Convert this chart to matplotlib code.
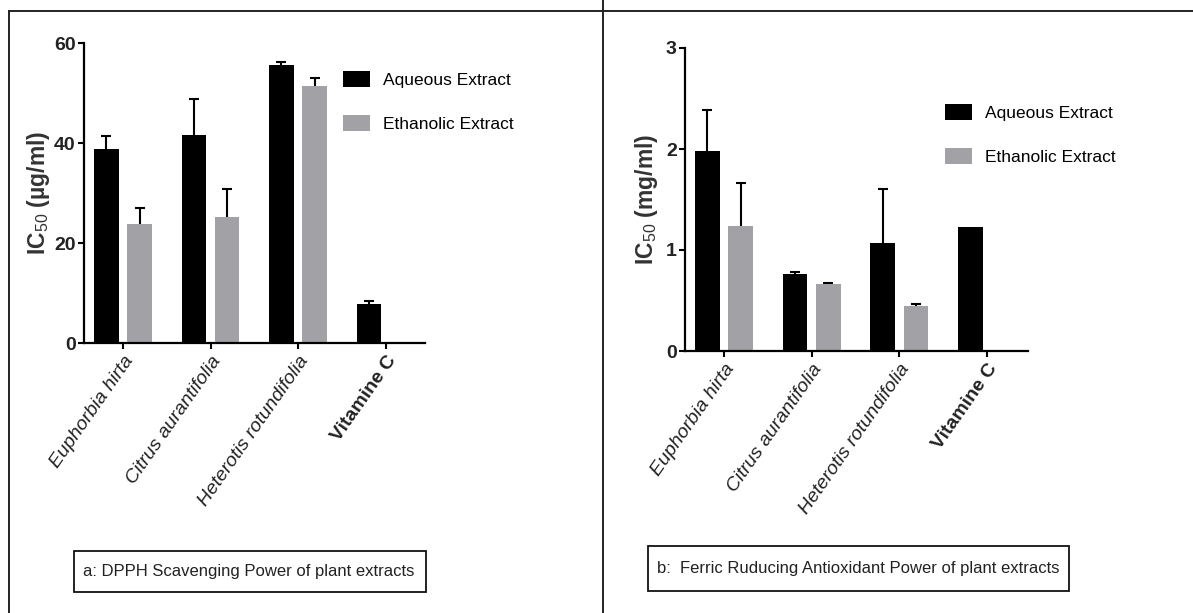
import matplotlib
matplotlib.use("Agg")
import matplotlib.pyplot as plt
import numpy as np
from matplotlib.lines import Line2D
from matplotlib.patches import Rectangle

plt.rcParams['font.family'] = ['Liberation Sans', 'DejaVu Sans']
plt.rcParams['mathtext.fontset'] = 'custom'
plt.rcParams['mathtext.rm'] = 'Liberation Sans'
plt.rcParams['mathtext.bf'] = 'Liberation Sans:bold'

# data
categories = ['Euphorbia hirta', 'Citrus aurantifolia', 'Heterotis rotundifolia', 'Vitamine C']
series = ['Aqueous Extract', 'Ethanolic Extract']

# a: DPPH IC50 (ug/ml)
dpph_aq = [38.8, 41.7, 55.6, 7.9]
dpph_aq_err = [2.6, 7.1, 0.7, 0.5]
dpph_eth = [23.9, 25.3, 51.4]
dpph_eth_err = [3.1, 5.6, 1.7]

# b: FRAP IC50 (mg/ml)
frap_aq = [1.98, 0.76, 1.07, 1.23]
frap_aq_err = [0.41, 0.02, 0.53, 0.0]
frap_eth = [1.24, 0.66, 0.45]
frap_eth_err = [0.42, 0.01, 0.015]

W, H = 1193, 613
fig = plt.figure(figsize=(W / 100, H / 100), dpi=100)


def fx(x):
    return x / W


def fy(y):
    return 1 - y / H


BLACK = '#000000'
GRAY = '#a2a2a6'


def draw_err(ax, xs, vals, errs):
    xs, vals, errs = np.asarray(xs), np.asarray(vals), np.asarray(errs)
    m = errs > 0  # no whisker where there's no spread
    # sits under the bars so only the upper half shows
    ax.errorbar(xs[m], vals[m], yerr=errs[m], fmt='none',
                ecolor=BLACK, elinewidth=1.5, capsize=3.5, capthick=1.5, zorder=1)


def panel(left, right, top, bottom, tick0, step, aq, aq_err, eth, eth_err, ymax, yticks, ylabel, ylab_x):
    ax = fig.add_axes([fx(left), fy(bottom), fx(right - left), (bottom - top) / H])
    x = np.arange(len(categories))
    ax.bar(x - 0.19, aq, width=0.28, color=BLACK, label=series[0], zorder=2)
    draw_err(ax, x - 0.19, aq, aq_err)
    xe = x[:len(eth)] + 0.19
    ax.bar(xe, eth, width=0.28, color=GRAY, label=series[1], zorder=2)
    draw_err(ax, xe, eth, eth_err)
    ax.set_xlim((left - tick0) / step, (right - tick0) / step)
    ax.set_ylim(0, ymax)
    ax.set_yticks(yticks)
    ax.set_xticks(x)
    ax.set_xticklabels(categories, rotation=55, ha='right', rotation_mode='anchor', fontsize=14,
                       color='#222222')
    for i, t in enumerate(ax.get_xticklabels()):
        if i < 3:
            t.set_style('italic')
        else:
            t.set_fontweight('bold')
    for t in ax.get_yticklabels():
        t.set_fontweight('bold')
        t.set_fontsize(14)
        t.set_color('#222222')
    for s in ['top', 'right']:
        ax.spines[s].set_visible(False)
    for s in ['left', 'bottom']:
        ax.spines[s].set_linewidth(1.6)
    ax.tick_params(axis='both', width=1.5, length=4, direction='out')
    ax.tick_params(axis='y', pad=2)
    ax.tick_params(axis='x', pad=3)
    fig.text(fx(ylab_x), fy((top + bottom) / 2), ylabel, rotation=90, ha='center', va='center',
             fontsize=16.5, fontweight='bold', color='#333333')
    return ax


axa = panel(84, 425, 43, 343, 123, 87.5, dpph_aq, dpph_aq_err, dpph_eth, dpph_eth_err,
            60, [0, 20, 40, 60], r'IC$_{\mathrm{50}}$ (µg/ml)', 38)
axb = panel(685, 1028, 48, 351, 724, 87.7, frap_aq, frap_aq_err, frap_eth, frap_eth_err,
            3, [0, 1, 2, 3], r'IC$_{\mathrm{50}}$ (mg/ml)', 646)

axa.legend(loc='upper left', bbox_to_anchor=(fx(343), fy(71)), bbox_transform=fig.transFigure,
           frameon=False, fontsize=12.5, handlelength=1.55, handleheight=1.0,
           handletextpad=0.75, labelspacing=1.6, borderpad=0, borderaxespad=0)
axb.legend(loc='upper left', bbox_to_anchor=(fx(945), fy(104)), bbox_transform=fig.transFigure,
           frameon=False, fontsize=12.5, handlelength=1.55, handleheight=1.0,
           handletextpad=0.75, labelspacing=1.6, borderpad=0, borderaxespad=0)

# caption boxes
captions = ['a: DPPH Scavenging Power of plant extracts',
            'b:  Ferric Ruducing Antioxidant Power of plant extracts']
boxes = [(74, 551, 426, 592), (648, 546, 1069, 591)]
for cap, (x0, y0, x1, y1) in zip(captions, boxes):
    fig.add_artist(Rectangle((fx(x0), fy(y1)), fx(x1 - x0), (y1 - y0) / H,
                             transform=fig.transFigure, fill=False, edgecolor='#111111', lw=1.3))
    fig.text(fx(x0 + 9), fy((y0 + y1) / 2), cap, ha='left', va='center', fontsize=12, color='#222222')

# outer frame lines
for xs, ys in [((9, W), (11, 11)), ((9, 9), (11, H)), ((603, 603), (0, H))]:
    fig.add_artist(Line2D([fx(xs[0]), fx(xs[1])], [fy(ys[0]), fy(ys[1])],
                          transform=fig.transFigure, color='#222222', lw=1.4))

fig.savefig('out.png', dpi=100)
